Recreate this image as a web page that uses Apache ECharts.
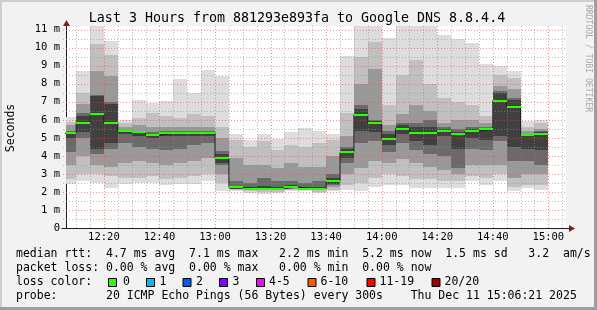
<!DOCTYPE html>
<html><head><meta charset="utf-8">
<script src="https://cdn.jsdelivr.net/npm/echarts@6/dist/echarts.min.js"></script>
<style>html,body{margin:0;padding:0;background:#f2f2f2;}#c{width:597px;height:310px;}</style>
</head><body><div id="c"></div>
<script>
// ---------- data (ms) ----------
const barEnd = ['12:10','12:15','12:20','12:25','12:30','12:35','12:40','12:45','12:50','12:55',
  '13:00','13:05','13:10','13:15','13:20','13:25','13:30','13:35','13:40','13:45',
  '13:50','13:55','14:00','14:05','14:10','14:15','14:20','14:25','14:30','14:35',
  '14:40','14:45','14:50','14:55','15:00'];
const rttMedian = [5.25,5.84,6.30,5.84,5.36,5.30,5.14,5.25,5.29,5.25,
  5.29,3.86,2.25,2.18,2.18,2.18,2.27,2.18,2.18,2.58,
  4.19,6.28,5.84,4.95,5.51,5.25,5.25,5.40,5.19,5.36,
  5.47,7.06,6.73,5.14,5.19];
const rttMin = [2.44,2.60,2.50,2.22,2.44,2.50,2.50,2.36,2.44,2.44,
  2.63,2.03,2.03,1.94,1.88,1.94,2.03,2.03,1.94,2.03,
  2.12,2.03,2.30,2.40,2.36,2.22,2.22,2.22,2.22,2.59,
  2.40,2.63,2.07,2.22,2.10];
const rttMax = [6.15,8.73,11.2,10.39,6.01,7.12,6.93,7.02,8.28,7.49,
  8.78,8.41,5.23,4.90,5.23,4.93,5.32,5.54,5.36,5.21,
  9.52,11.2,11.2,10.54,11.2,11.2,11.2,10.72,10.50,10.26,
  9.11,9.00,8.69,5.91,5.97];
const band2Lo = [2.7,3.0,3.0,2.9,2.8,2.8,2.9,2.7,2.8,2.9,
  3.0,2.5,2.1,2.05,2.0,2.0,2.1,2.1,2.0,2.1,
  2.4,2.5,2.8,3.0,2.9,2.7,2.7,2.6,2.6,2.9,
  2.8,3.0,2.3,2.4,2.4];
const band2Hi = [5.9,7.5,10.2,9.6,5.8,6.1,6.4,6.2,6.1,6.3,
  6.2,5.6,4.9,4.5,4.8,4.3,4.6,4.5,4.7,4.9,
  6.4,9.5,10.3,6.8,8.5,9.3,8.0,7.2,7.0,6.8,
  6.2,8.5,8.3,5.6,5.8];
const band3Lo = [3.5,4.0,3.5,3.4,3.6,3.7,3.6,3.5,3.6,3.7,
  3.9,3.0,2.15,2.1,2.1,2.1,2.15,2.15,2.1,2.3,
  3.0,3.3,3.7,3.6,3.8,3.6,3.4,3.2,3.0,3.5,
  3.5,3.5,2.8,3.0,3.0];
const band3Hi = [5.7,6.9,8.7,8.4,5.6,5.7,5.6,5.6,5.6,5.6,
  5.6,5.0,3.9,3.5,3.5,3.3,3.6,3.4,3.4,4.0,
  5.1,8.0,8.8,5.7,6.3,6.8,6.5,5.8,6.0,6.0,
  5.8,7.9,7.7,5.4,5.5];
const band4Lo = [4.2,5.0,4.1,4.4,4.7,4.5,4.4,4.3,4.4,4.6,
  4.7,3.5,2.15,2.1,2.1,2.1,2.2,2.15,2.1,2.4,
  3.6,4.7,4.8,4.2,4.7,4.3,4.1,4.0,3.3,4.4,
  4.3,4.8,3.7,3.7,3.5];
const band4Hi = [5.4,6.4,7.4,7.0,5.45,5.4,5.3,5.4,5.4,5.4,
  5.4,4.25,2.6,2.5,2.8,2.6,2.6,2.5,2.6,3.0,
  4.5,6.8,6.0,5.4,5.8,5.8,6.0,5.6,5.5,5.6,
  5.6,7.6,7.2,5.2,5.4];
const band5Lo = [5.0,5.3,4.4,4.7,5.2,5.1,5.0,5.1,5.1,5.1,
  5.1,3.6,2.15,2.1,2.1,2.1,2.2,2.15,2.1,2.45,
  3.9,5.4,5.3,4.6,5.2,4.8,4.6,5.1,4.4,5.0,
  4.9,5.1,4.5,4.4,4.3];
const band5Hi = [5.35,6.2,7.3,6.9,5.4,5.35,5.2,5.35,5.35,5.35,
  5.35,4.1,2.35,2.3,2.35,2.3,2.4,2.3,2.3,2.75,
  4.4,6.6,5.95,5.2,5.7,5.6,5.6,5.5,5.3,5.5,
  5.55,7.5,7.1,5.2,5.3];
const xTickLabels = ['12:20','12:40','13:00','13:20','13:40','14:00','14:20','14:40','15:00'];
const yTickValues = [0,1,2,3,4,5,6,7,8,9,10,11];
const yTickLabels = ['0','1 m','2 m','3 m','4 m','5 m','6 m','7 m','8 m','9 m','10 m','11 m'];
const titleText = 'Last 3 Hours from 881293e893fa to Google DNS 8.8.4.4';
const statLines = [
  'median rtt:  4.7 ms avg  7.1 ms max   2.2 ms min  5.2 ms now  1.5 ms sd   3.2  am/s',
  'packet loss: 0.00 % avg  0.00 % max   0.00 % min  0.00 % now',
  'loss color:',
  'probe:       20 ICMP Echo Pings (56 Bytes) every 300s    Thu Dec 11 15:06:21 2025'
];
const lossLabels = ['0','1','2','3','4-5','6-10','11-19','20/20'];
const lossColors = ['#26ff00','#00b8ff','#0059ff','#7e00ff','#ff00ff','#ff5500','#ff0000','#a10000'];

// ---------- layout / style ----------
const FONT = "'DejaVu Sans Mono', monospace";
const lossBoxX = [108,146,182.5,219,256,307.5,366.5,431.5];
const lossTextX = [123,159.5,196,232.5,269,320.5,379.5,444.5];
const lineY = [254.3,268.3,282.5,296.3];
const smokeColors = ['#dddddd','#c0c0c0','#999999','#6a6a6a','#404040'];

function toMin(s){const p=s.split(':').map(Number);return p[0]*60+p[1];}
const STEP = 5;
const X_MAX = toMin('15:06') + 21/60;
const X_MIN = X_MAX - 180;
const xTickValues = xTickLabels.map(toMin);

function clipR(r, cs){
  return echarts.graphic.clipRectByRect(r,{x:cs.x,y:cs.y,width:cs.width,height:cs.height});
}
function bandSeries(lo, hi, color, z){
  return {
    type:'custom', z:z, silent:true,
    data: barEnd.map((t,i)=>[toMin(t)-STEP, toMin(t), lo[i], hi[i]]),
    encode:{x:[0,1], y:[2,3]},
    renderItem(params, api){
      const a = api.coord([api.value(0), api.value(3)]);
      const b = api.coord([api.value(1), api.value(2)]);
      const x0=Math.round(a[0]), x1=Math.round(b[0]), y0=Math.round(a[1]), y1=Math.round(b[1]);
      const r = clipR({x:x0,y:y0,width:x1-x0,height:y1-y0}, params.coordSys);
      if(!r) return;
      return {type:'rect', shape:r, style:{fill:color}};
    }
  };
}

// grid line items: [x, y, kind(0=vertical,1=horizontal), major]
const gridItems = [];
for(let m=toMin('12:10'); m<=X_MAX; m+=5) gridItems.push([m, 0, 0, m%20===0?1:0]);
for(let k=1; k<=22; k++) gridItems.push([X_MIN, k/2, 1, k%2===0?1:0]);

const chart = echarts.init(document.getElementById('c'), null, {renderer:'canvas'});
const graphics = [
  {type:'text', x:297, y:19, style:{text:titleText, font:'13.3px '+FONT, fill:'#000', align:'center', verticalAlign:'middle'}},
  {type:'text', x:11, y:128, rotation:Math.PI/2, style:{text:'Seconds', font:'11.5px '+FONT, fill:'#000', align:'center', verticalAlign:'middle'}},
  {type:'text', x:588.5, y:58.5, rotation:-Math.PI/2, style:{text:'RRDTOOL / TOBI OETIKER', font:'8.1px '+FONT, fill:'#a8a8a8', align:'center', verticalAlign:'middle'}},
  // frame
  {type:'rect', shape:{x:0,y:0,width:597,height:2}, style:{fill:'#cecece'}},
  {type:'rect', shape:{x:0,y:0,width:2,height:310}, style:{fill:'#cecece'}},
  {type:'rect', shape:{x:0,y:307,width:597,height:3}, style:{fill:'#9e9e9e'}},
  {type:'rect', shape:{x:594,y:0,width:3,height:310}, style:{fill:'#9e9e9e'}},
  // axis extensions and arrows
  {type:'line', shape:{x1:61.5,y1:228.5,x2:66,y2:228.5}, style:{stroke:'#1f1f1f', lineWidth:1}},
  {type:'line', shape:{x1:566,y1:228.5,x2:570,y2:228.5}, style:{stroke:'#1f1f1f', lineWidth:1}},
  {type:'polygon', shape:{points:[[569,225],[569,232],[575,228.5]]}, style:{fill:'#7f1f1f'}},
  {type:'polygon', shape:{points:[[63,26],[70,26],[66.5,20]]}, style:{fill:'#7f1f1f'}}
];
statLines.forEach((s,i)=>graphics.push({type:'text', x:16, y:lineY[i], style:{text:s, font:'11.5px '+FONT, fill:'#000', verticalAlign:'middle'}}));
lossLabels.forEach((l,i)=>{
  graphics.push({type:'rect', shape:{x:lossBoxX[i]+0.5, y:278.5, width:8, height:8}, style:{fill:lossColors[i], stroke:'#000', lineWidth:1}});
  graphics.push({type:'text', x:lossTextX[i], y:lineY[2], style:{text:l, font:'11.5px '+FONT, fill:'#000', verticalAlign:'middle'}});
});

chart.setOption({
  animation:false,
  backgroundColor:'#f2f2f2',
  grid:{left:66, right:31, top:26, bottom:82, show:true, backgroundColor:'#ffffff', borderWidth:0},
  xAxis:{type:'value', min:X_MIN, max:X_MAX,
    axisLine:{show:true, lineStyle:{color:'#1f1f1f', width:1}},
    axisTick:{show:false}, splitLine:{show:false},
    axisLabel:{customValues:xTickValues, formatter:(v)=>{const i=xTickValues.indexOf(v);return i<0?'':xTickLabels[i];},
      fontFamily:FONT, fontSize:10.5, color:'#000', margin:4}},
  yAxis:{type:'value', min:0, max:11.2,
    axisLine:{show:true, lineStyle:{color:'#1f1f1f', width:1}},
    axisTick:{show:false}, splitLine:{show:false},
    axisLabel:{customValues:yTickValues, formatter:(v)=>{const i=yTickValues.indexOf(v);return i<0?'':yTickLabels[i];},
      fontFamily:FONT, fontSize:10.5, color:'#000', margin:6}},
  graphic:graphics,
  series:[
    bandSeries(rttMin, rttMax, smokeColors[0], 1),
    bandSeries(band2Lo, band2Hi, smokeColors[1], 1),
    bandSeries(band3Lo, band3Hi, smokeColors[2], 1),
    bandSeries(band4Lo, band4Hi, smokeColors[3], 1),
    bandSeries(band5Lo, band5Hi, smokeColors[4], 1),
    {type:'custom', z:2, silent:true, data:gridItems,
      renderItem(params, api){
        const cs = params.coordSys;
        const p = api.coord([api.value(0), api.value(1)]);
        const major = api.value(3)===1;
        const stroke = major ? 'rgba(222,79,79,0.6)' : 'rgba(143,143,143,0.6)';
        if(api.value(2)===0){
          const x = Math.round(p[0])+0.5;
          return {type:'line', shape:{x1:x,y1:cs.y,x2:x,y2:cs.y+cs.height}, style:{stroke:stroke, lineWidth:1, lineDash:[1,2]}};
        }
        const y = Math.round(p[1])+0.5;
        return {type:'line', shape:{x1:cs.x-3,y1:y,x2:cs.x+cs.width,y2:y}, style:{stroke:stroke, lineWidth:1, lineDash:[1,2]}};
      }},
    {type:'line', z:3, silent:true, step:'end', symbol:'none',
      data: barEnd.map((t,i)=>[toMin(t)-STEP, rttMedian[i]]).concat([[toMin(barEnd[barEnd.length-1]), rttMedian[rttMedian.length-1]]]),
      lineStyle:{color:'#1f1f1f', width:1}},
    {type:'custom', z:4, silent:true,
      data: barEnd.map((t,i)=>[toMin(t)-STEP, toMin(t), rttMedian[i]]),
      encode:{x:[0,1], y:2},
      renderItem(params, api){
        const a = api.coord([api.value(0), api.value(2)]);
        const b = api.coord([api.value(1), api.value(2)]);
        const x0=Math.round(a[0]), x1=Math.round(b[0]), y=Math.round(a[1]);
        const r = clipR({x:x0,y:y-1,width:x1-x0,height:2}, params.coordSys);
        if(!r) return;
        return {type:'rect', shape:r, style:{fill:'#26ff00'}};
      }}
  ]
});
</script></body></html>
